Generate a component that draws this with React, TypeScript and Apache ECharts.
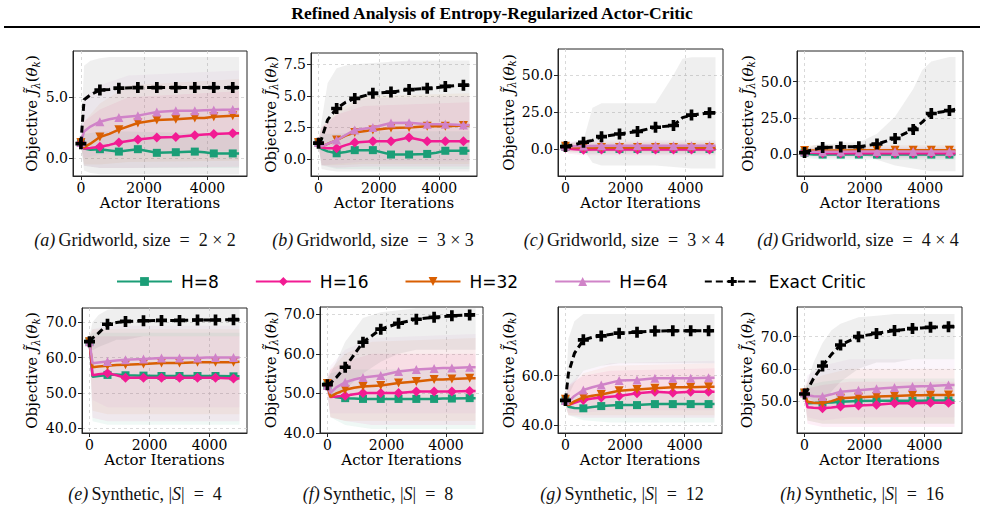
import React, { useEffect, useRef } from 'react';
import * as echarts from 'echarts';

// ---------- shared axes / names ----------
const ITER = [0, 100, 300, 600, 900, 1200, 1800, 2400, 3000, 3600, 3900, 4200, 4800, 5000];
const MARKED_ITER = [0, 600, 1200, 1800, 2400, 3000, 3600, 4200, 4800];
const BAND_ITER = [0, 100, 600, 1500, 5000];
const X_TICKS = [0, 2000, 4000];
const SERIES_NAMES = ['H=8', 'H=16', 'H=32', 'H=64', 'Exact Critic'];

// ---------- (a) Gridworld 2x2 ----------
const A_YTICKS = [0, 5];
const A_H8 = [1.3, 0.8, 0.7, 0.75, 0.65, 0.55, 0.75, 0.45, 0.5, 0.55, 0.5, 0.4, 0.4, 0.4];
const A_H16 = [1.3, 0.8, 0.85, 0.95, 1.1, 1.3, 1.55, 1.7, 1.75, 1.9, 1.95, 2.0, 2.05, 2.05];
const A_H32 = [1.3, 0.9, 1.2, 1.75, 2.0, 2.35, 2.9, 3.15, 3.2, 3.3, 3.3, 3.4, 3.5, 3.5];
const A_H64 = [1.3, 2.2, 2.6, 3.0, 3.2, 3.35, 3.5, 3.8, 3.9, 3.9, 3.95, 3.97, 4.0, 4.05];
const A_EXACT = [1.2, 4.8, 5.2, 5.6, 5.65, 5.75, 5.8, 5.8, 5.8, 5.8, 5.8, 5.8, 5.8, 5.8];
const A_EXACT_BAND = [[1.0, 1.5], [-1.0, 7.6], [-1.2, 8.0], [-1.3, 8.2], [-1.3, 8.3], [-1.3, 8.3], [-1.3, 8.3], [-1.3, 8.3], [-1.3, 8.3], [-1.3, 8.3], [-1.3, 8.3], [-1.3, 8.3], [-1.3, 8.3], [-1.3, 8.3]];
const A_H8_BAND = [[1.1, 1.5], [-0.6, 2.0], [-0.8, 2.2], [-0.8, 2.2], [-0.8, 2.0]];
const A_H16_BAND = [[1.1, 1.5], [-0.6, 3.0], [-0.8, 4.0], [-0.8, 5.0], [-0.7, 5.5]];
const A_H32_BAND = [[1.1, 1.5], [-0.5, 3.0], [-0.5, 4.5], [-0.3, 6.0], [-0.2, 6.5]];
const A_H64_BAND = [[1.1, 1.5], [0.0, 5.0], [0.3, 6.0], [0.5, 6.8], [0.6, 7.2]];

// ---------- (b) Gridworld 3x3 ----------
const B_YTICKS = [0, 2.5, 5, 7.5];
const B_H8 = [1.3, 0.8, 0.6, 0.45, 0.55, 0.7, 0.7, 0.35, 0.35, 0.4, 0.5, 0.65, 0.65, 0.65];
const B_H16 = [1.3, 0.9, 0.85, 0.85, 1.1, 1.3, 1.4, 1.4, 1.7, 1.4, 1.4, 1.4, 1.4, 1.4];
const B_H32 = [1.3, 1.0, 1.2, 1.5, 1.85, 2.1, 2.3, 2.45, 2.5, 2.6, 2.6, 2.6, 2.65, 2.65];
const B_H64 = [1.3, 1.0, 1.2, 1.5, 1.9, 2.3, 2.5, 2.85, 2.87, 2.75, 2.75, 2.75, 2.7, 2.7];
const B_EXACT = [1.25, 1.6, 3.1, 4.0, 4.5, 4.8, 5.2, 5.3, 5.5, 5.6, 5.65, 5.75, 5.85, 5.85];
const B_EXACT_BAND = [[1.0, 1.5], [-0.8, 3.0], [-0.9, 6.0], [-1.0, 7.2], [-1.0, 7.4], [-1.0, 7.5], [-1.0, 7.6], [-1.0, 7.7], [-1.0, 7.8], [-1.0, 7.8], [-1.0, 7.8], [-1.0, 7.8], [-1.0, 7.8], [-1.0, 7.8]];
const B_H8_BAND = [[1.1, 1.5], [-0.5, 2.0], [-0.8, 2.0], [-0.8, 2.2], [-0.8, 2.2]];
const B_H16_BAND = [[1.1, 1.5], [-0.5, 2.5], [-0.7, 3.5], [-0.6, 4.2], [-0.6, 4.5]];
const B_H32_BAND = [[1.1, 1.5], [-0.5, 2.5], [-0.5, 3.8], [-0.4, 5.0], [-0.4, 5.2]];
const B_H64_BAND = [[1.1, 1.5], [-0.5, 2.5], [-0.4, 3.5], [-0.2, 4.8], [-0.2, 5.0]];

// ---------- (c) Gridworld 3x4 ----------
const C_YTICKS = [0, 25, 50];
const C_H8 = [1.5, 0.5, 0.3, 0.2, 0.2, 0.2, 0.2, 0.2, 0.2, 0.2, 0.2, 0.2, 0.2, 0.2];
const C_H16 = [1.0, 0.3, 0.0, -0.3, -0.2, -0.2, -0.2, -0.2, -0.2, -0.2, -0.2, -0.2, -0.2, -0.2];
const C_H32 = [2.0, 1.5, 1.3, 1.2, 1.2, 1.2, 1.2, 1.2, 1.2, 1.2, 1.2, 1.2, 1.2, 1.2];
const C_H64 = [2.0, 1.8, 2.0, 2.2, 2.2, 2.3, 2.3, 2.3, 2.4, 2.4, 2.4, 2.4, 2.4, 2.4];
const C_EXACT = [1.8, 2.3, 3.0, 4.7, 6.0, 8.5, 10.3, 12.0, 14.8, 16.0, 21.3, 23.0, 24.5, 24.5];
const C_EXACT_BAND = [[0, 3], [0, 4], [0, 5], [0, 6], [-9, 28], [-11, 31], [-11, 31], [-11, 31], [-11, 31], [-12, 50], [-12.5, 61], [-13, 62], [-13, 62], [-13, 62]];
const C_H8_BAND = [[0, 3], [-2, 3], [-3, 3], [-3, 3], [-3, 3]];
const C_H16_BAND = [[0, 3], [-3, 4], [-4, 4], [-4, 4], [-4, 4]];
const C_H32_BAND = [[0, 3], [-2, 4], [-2, 5], [-2, 5], [-2, 5]];
const C_H64_BAND = [[0, 3], [-1, 5], [-1, 6], [-1, 6], [-1, 6]];

// ---------- (d) Gridworld 4x4 ----------
const D_YTICKS = [0, 25, 50];
const D_H8 = [1.0, 0.0, -0.3, -0.4, -0.4, -0.4, -0.4, -0.4, -0.4, -0.4, -0.4, -0.4, -0.4, -0.4];
const D_H16 = [1.5, 1.0, 0.8, 0.6, 0.6, 0.6, 0.6, 0.6, 0.6, 0.6, 0.6, 0.6, 0.6, 0.6];
const D_H32 = [2.5, 2.4, 2.4, 2.5, 2.5, 2.5, 2.6, 2.6, 2.6, 2.6, 2.6, 2.6, 2.6, 2.6];
const D_H64 = [1.5, 1.5, 1.5, 1.6, 1.6, 1.6, 1.7, 1.7, 1.7, 1.7, 1.7, 1.7, 1.7, 1.7];
const D_EXACT = [1.0, 2.0, 3.0, 4.5, 4.7, 4.9, 5.0, 6.9, 10.8, 17.0, 22.0, 28.0, 30.0, 31.0];
const D_EXACT_BAND = [[0, 2], [0, 4], [1, 6], [1, 7], [1, 7], [1, 8], [1, 8], [-4, 14], [-8, 26], [-10, 45], [-11, 58], [-12, 64], [-12, 67], [-12, 67]];
const D_H8_BAND = [[0, 2], [-3, 3], [-4, 3], [-4, 3], [-4, 3]];
const D_H16_BAND = [[0, 3], [-2, 4], [-3, 4], [-3, 4], [-3, 4]];
const D_H32_BAND = [[0, 4], [-1, 6], [-1, 6], [-1, 6], [-1, 6]];
const D_H64_BAND = [[0, 3], [-1, 4], [-2, 5], [-2, 5], [-2, 5]];

// ---------- (e) Synthetic |S|=4 ----------
const E_YTICKS = [40, 50, 60, 70];
const E_H8 = [64.5, 54.6, 54.8, 55.1, 55.2, 55.0, 54.9, 54.8, 54.8, 54.8, 54.8, 54.8, 54.7, 54.7];
const E_H16 = [64.5, 55.0, 55.3, 55.6, 55.0, 54.3, 54.3, 54.3, 54.3, 54.3, 54.3, 54.3, 54.1, 54.1];
const E_H32 = [64.5, 57.3, 57.5, 57.7, 57.9, 58.0, 58.2, 58.5, 58.5, 58.7, 58.7, 58.7, 58.7, 58.8];
const E_H64 = [64.5, 58.4, 58.6, 58.9, 59.2, 59.4, 59.6, 59.9, 59.9, 59.9, 60.0, 60.0, 60.0, 60.0];
const E_EXACT = [64.5, 65.5, 66.9, 69.4, 69.9, 70.2, 70.4, 70.5, 70.5, 70.6, 70.6, 70.6, 70.7, 70.7];
const E_EXACT_BAND = [[63, 66], [62, 70], [63, 72], [64, 73.5], [65, 73.8], [65, 73.8], [66, 73.8], [66, 73.8], [66, 73.8], [66, 73.8], [66, 73.8], [66, 73.8], [66, 73.8], [66, 73.8]];
const E_H8_BAND = [[63, 66], [42, 67], [41, 67], [41, 67], [41, 67]];
const E_H16_BAND = [[63, 66], [43, 66], [42, 66], [42, 66], [42, 66]];
const E_H32_BAND = [[63, 66], [45, 68], [44, 68], [44, 68], [44, 68]];
const E_H64_BAND = [[63, 66], [48, 68], [46, 69], [46, 69], [46, 69]];

// ---------- (f) Synthetic |S|=8 ----------
const F_YTICKS = [40, 50, 60, 70];
const F_H8 = [52.0, 49.4, 49.0, 48.8, 48.7, 48.6, 48.6, 48.6, 48.6, 48.6, 48.7, 48.7, 48.8, 48.8];
const F_H16 = [52.0, 49.1, 49.2, 49.4, 49.8, 50.1, 50.1, 50.1, 50.5, 50.5, 50.5, 50.5, 50.6, 50.6];
const F_H32 = [52.5, 49.1, 50.0, 50.9, 51.4, 51.75, 52.0, 52.6, 53.0, 53.5, 53.5, 53.6, 53.8, 53.8];
const F_H64 = [52.0, 50.1, 51.5, 52.8, 53.5, 54.0, 54.5, 55.5, 56.0, 56.3, 56.4, 56.4, 56.6, 56.6];
const F_EXACT = [52.2, 52.6, 54.0, 56.6, 59.8, 62.9, 66.2, 67.7, 68.7, 69.2, 69.4, 69.6, 69.8, 69.8];
const F_EXACT_BAND = [[51, 53], [49, 55], [50, 58], [51, 63], [53, 66], [55, 69], [58, 70.5], [60, 71], [61, 71.5], [61, 71.5], [61, 71.5], [61, 71.5], [61, 71.5], [61, 71.5]];
const F_H8_BAND = [[50, 54], [44, 55], [42, 56], [41, 56], [41, 56]];
const F_H16_BAND = [[50, 54], [44, 56], [43, 58], [42, 60], [42, 60]];
const F_H32_BAND = [[50, 54], [44, 56], [43, 60], [43, 63], [43, 64]];
const F_H64_BAND = [[50, 54], [45, 57], [45, 61], [45, 64], [45, 65]];

// ---------- (g) Synthetic |S|=12 ----------
const G_YTICKS = [40, 60];
const G_H8 = [50.0, 47.4, 46.9, 46.8, 47.3, 47.7, 48.1, 48.1, 48.5, 48.5, 48.5, 48.5, 48.5, 48.5];
const G_H16 = [50.0, 48.1, 49.0, 50.2, 50.8, 51.2, 51.8, 52.9, 53.5, 53.1, 53.3, 53.5, 53.5, 53.5];
const G_H32 = [50.5, 48.1, 49.6, 51.2, 51.9, 52.4, 53.9, 54.4, 54.9, 55.3, 55.3, 55.3, 55.5, 55.5];
const G_H64 = [50.0, 49.5, 51.8, 54.2, 55.3, 56.2, 58.0, 58.3, 59.0, 59.0, 59.0, 59.0, 59.2, 59.2];
const G_EXACT = [50.0, 61.0, 69.0, 74.5, 75.5, 76.1, 77.2, 77.6, 78.1, 78.2, 78.2, 78.2, 78.2, 78.2];
const G_EXACT_BAND = [[48, 51], [52, 75], [57, 82], [62, 85], [63, 85], [64, 85], [65, 85], [65, 85], [65, 85], [65, 85], [65, 85], [65, 85], [65, 85], [65, 85]];
const G_H8_BAND = [[48, 51], [44, 51], [42, 52], [41, 53], [41, 53]];
const G_H16_BAND = [[48, 51], [44, 56], [43, 60], [43, 62], [43, 63]];
const G_H32_BAND = [[48, 51], [44, 55], [44, 61], [44, 64], [44, 65]];
const G_H64_BAND = [[48, 51], [45, 56], [45, 62], [46, 65], [46, 66]];

// ---------- (h) Synthetic |S|=16 ----------
const H_YTICKS = [50, 60, 70];
const H_H8 = [52.5, 49.3, 49.4, 49.5, 49.6, 49.8, 50.0, 50.1, 50.1, 50.1, 50.1, 50.2, 50.2, 50.2];
const H_H16 = [52.5, 48.1, 47.9, 47.8, 48.0, 48.3, 48.6, 48.9, 49.3, 49.3, 49.4, 49.5, 49.5, 49.5];
const H_H32 = [52.5, 49.8, 49.5, 49.3, 50.0, 50.9, 51.2, 51.4, 51.6, 51.8, 51.8, 51.9, 51.9, 51.9];
const H_H64 = [52.5, 51.8, 51.5, 51.4, 52.1, 52.9, 53.4, 53.8, 54.2, 54.5, 54.6, 54.7, 55.0, 55.0];
const H_EXACT = [52.2, 53.5, 57.0, 60.9, 64.5, 67.4, 70.0, 71.0, 71.9, 72.5, 72.7, 72.9, 73.1, 73.1];
const H_EXACT_BAND = [[51, 53], [51, 56], [50, 62], [50, 68], [53, 72], [56, 74], [60, 76], [62, 76.5], [62, 77], [63, 77], [63, 77], [63, 77], [63, 77], [63, 77]];
const H_H8_BAND = [[51, 54], [44, 55], [43, 56], [43, 57], [43, 57]];
const H_H16_BAND = [[51, 54], [43, 54], [42, 55], [42, 56], [42, 56]];
const H_H32_BAND = [[51, 54], [44, 56], [43, 58], [43, 60], [43, 60]];
const H_H64_BAND = [[51, 54], [45, 58], [44, 61], [45, 63], [45, 63]];

// ---------- captions ----------
const CAPTION_TAGS = ['(a)', '(b)', '(c)', '(d)', '(e)', '(f)', '(g)', '(h)'];
const CAPTION_BODIES = [
  'Gridworld, size = 2 × 2',
  'Gridworld, size = 3 × 3',
  'Gridworld, size = 3 × 4',
  'Gridworld, size = 4 × 4',
  'Synthetic, |S| = 4',
  'Synthetic, |S| = 8',
  'Synthetic, |S| = 12',
  'Synthetic, |S| = 16',
];
const TITLE = 'Refined Analysis of Entropy-Regularized Actor-Critic';

// ---------- styling ----------
const COLORS = ['#1b9e77', '#f21b93', '#d95f02', '#d083c8', '#000000'];
const BAND_COLORS = ['rgba(27,158,119,0.07)', 'rgba(242,27,147,0.07)', 'rgba(217,95,2,0.06)', 'rgba(208,131,200,0.08)'];
const EXACT_BAND_COLOR = 'rgba(120,120,120,0.12)';
const PLUS = 'path://M4,0H8V4H12V8H8V12H4V8H0V4H4Z';
const SYMBOLS = ['rect', 'diamond', 'triangle', 'triangle', PLUS];
const SYMBOL_ROT = [0, 0, 180, 0, 0];
const SYMBOL_SIZE = [8, 10, 9, 9, 11];

const PANELS = [
  { grid: { left: 73, top: 51, width: 174, height: 125 }, y: [-1.45, 8.8], ticks: A_YTICKS, lines: [A_H8, A_H16, A_H32, A_H64, A_EXACT], exactBand: A_EXACT_BAND, bands: [A_H8_BAND, A_H16_BAND, A_H32_BAND, A_H64_BAND], gap: 32, cap: [135, 240] },
  { grid: { left: 311, top: 53, width: 166, height: 123 }, y: [-1.35, 8.4], ticks: B_YTICKS, lines: [B_H8, B_H16, B_H32, B_H64, B_EXACT], exactBand: B_EXACT_BAND, bands: [B_H8_BAND, B_H16_BAND, B_H32_BAND, B_H64_BAND], gap: 30, cap: [373, 240] },
  { grid: { left: 558, top: 49, width: 165, height: 127 }, y: [-18, 67.5], ticks: C_YTICKS, lines: [C_H8, C_H16, C_H32, C_H64, C_EXACT], exactBand: C_EXACT_BAND, bands: [C_H8_BAND, C_H16_BAND, C_H32_BAND, C_H64_BAND], gap: 37, cap: [624, 240] },
  { grid: { left: 797, top: 51, width: 166, height: 125 }, y: [-15.2, 71.2], ticks: D_YTICKS, lines: [D_H8, D_H16, D_H32, D_H64, D_EXACT], exactBand: D_EXACT_BAND, bands: [D_H8_BAND, D_H16_BAND, D_H32_BAND, D_H64_BAND], gap: 39, cap: [858, 240] },
  { grid: { left: 82, top: 308, width: 165, height: 125 }, y: [38.7, 74], ticks: E_YTICKS, lines: [E_H8, E_H16, E_H32, E_H64, E_EXACT], exactBand: E_EXACT_BAND, bands: [E_H8_BAND, E_H16_BAND, E_H32_BAND, E_H64_BAND], gap: 41, cap: [145, 494] },
  { grid: { left: 320, top: 307, width: 163, height: 126 }, y: [40, 71.8], ticks: F_YTICKS, lines: [F_H8, F_H16, F_H32, F_H64, F_EXACT], exactBand: F_EXACT_BAND, bands: [F_H8_BAND, F_H16_BAND, F_H32_BAND, F_H64_BAND], gap: 39, cap: [378, 494] },
  { grid: { left: 558, top: 307, width: 164, height: 126 }, y: [36.8, 87.8], ticks: G_YTICKS, lines: [G_H8, G_H16, G_H32, G_H64, G_EXACT], exactBand: G_EXACT_BAND, bands: [G_H8_BAND, G_H16_BAND, G_H32_BAND, G_H64_BAND], gap: 38, cap: [622, 494] },
  { grid: { left: 797, top: 307, width: 165, height: 126 }, y: [40.1, 79.2], ticks: H_YTICKS, lines: [H_H8, H_H16, H_H32, H_H64, H_EXACT], exactBand: H_EXACT_BAND, bands: [H_H8_BAND, H_H16_BAND, H_H32_BAND, H_H64_BAND], gap: 41, cap: [862, 494] },
];

const SERIF = 'DejaVu Serif';
const AXIS_COLOR = '#262626';

function bandSeries(gi: number, xs: number[], pairs: number[][], color: string) {
  return {
    type: 'custom',
    xAxisIndex: gi,
    yAxisIndex: gi,
    silent: true,
    z: 1,
    data: xs.map((x, k) => [x, pairs[k][0], pairs[k][1]]),
    encode: { x: 0, y: [1, 2] },
    renderItem: (params: any, api: any) => {
      if (params.dataIndexInside !== 0) return null;
      const top = xs.map((x, k) => api.coord([x, pairs[k][1]]));
      const bot = xs.map((x, k) => api.coord([x, pairs[k][0]])).reverse();
      return { type: 'polygon', shape: { points: top.concat(bot) }, style: { fill: color } };
    },
  };
}

function buildOption() {
  const grids: any[] = [];
  const xAxes: any[] = [];
  const yAxes: any[] = [];
  const series: any[] = [];
  const graphics: any[] = [];

  PANELS.forEach((p, gi) => {
    grids.push({ ...p.grid, show: true, borderColor: AXIS_COLOR, borderWidth: 1, backgroundColor: 'transparent' });
    xAxes.push({
      type: 'value', gridIndex: gi, min: -250, max: 5250,
      name: 'Actor Iterations', nameLocation: 'middle', nameGap: 19,
      nameTextStyle: { fontFamily: SERIF, fontSize: 15, color: '#000' },
      axisLine: { show: true, onZero: false, lineStyle: { color: AXIS_COLOR, width: 1 } },
      axisTick: { show: true, length: 4, customValues: X_TICKS, lineStyle: { color: AXIS_COLOR } },
      axisLabel: { customValues: X_TICKS, margin: 5, fontFamily: SERIF, fontSize: 14, color: '#000', formatter: (v: number) => String(v) },
      splitLine: { show: true, lineStyle: { color: '#cfcfcf', type: [3, 3], width: 0.8 } },
    });
    yAxes.push({
      type: 'value', gridIndex: gi, min: p.y[0], max: p.y[1],
      name: '{n|Objective }{j|J\u0303}{s|λ}{n|(}{t|θ}{s|k}{n|)}',
      nameLocation: 'middle', nameRotate: 90, nameGap: p.gap,
      nameTextStyle: {
        fontFamily: SERIF, fontSize: 15, color: '#000',
        rich: {
          n: { fontFamily: SERIF, fontSize: 15, color: '#000' },
          j: { fontFamily: SERIF, fontSize: 15, fontStyle: 'italic', color: '#000' },
          t: { fontFamily: SERIF, fontSize: 15, fontStyle: 'italic', color: '#000' },
          s: { fontFamily: SERIF, fontSize: 10.5, fontStyle: 'italic', color: '#000', verticalAlign: 'bottom', lineHeight: 18 },
        },
      },
      axisLine: { show: true, onZero: false, lineStyle: { color: AXIS_COLOR, width: 1 } },
      axisTick: { show: true, length: 4, customValues: p.ticks, lineStyle: { color: AXIS_COLOR } },
      axisLabel: { customValues: p.ticks, margin: 5, fontFamily: SERIF, fontSize: 14, color: '#000', formatter: (v: number) => v.toFixed(1) },
      splitLine: { show: true, lineStyle: { color: '#cfcfcf', type: [3, 3], width: 0.8 } },
    });

    // shaded bands
    p.bands.forEach((b, si) => series.push(bandSeries(gi, BAND_ITER, b, BAND_COLORS[si])));
    series.push(bandSeries(gi, ITER, p.exactBand, EXACT_BAND_COLOR));

    // lines
    p.lines.forEach((ys, si) => {
      const isExact = si === 4;
      series.push({
        type: 'line',
        name: SERIES_NAMES[si],
        xAxisIndex: gi,
        yAxisIndex: gi,
        z: 3 + si,
        symbol: SYMBOLS[si],
        symbolRotate: SYMBOL_ROT[si],
        symbolSize: SYMBOL_SIZE[si],
        showSymbol: true,
        silent: true,
        color: COLORS[si],
        itemStyle: { color: COLORS[si] },
        lineStyle: isExact ? { color: '#000', width: 3, type: [7, 4] } : { color: COLORS[si], width: 2.5 },
        data: ITER.map((x, k) => (MARKED_ITER.indexOf(x) >= 0 ? { value: [x, ys[k]] } : { value: [x, ys[k]], symbol: 'none' })),
      });
    });

    // caption
    const body = CAPTION_BODIES[gi]
      .replace(' = ', '\u2002=\u2002')
      .replace(' × ', '\u2005×\u2005')
      .replace('|S|', '|}{is|S}{r||');
    graphics.push({
      type: 'text', x: p.cap[0], y: p.cap[1],
      style: {
        text: `{it|${CAPTION_TAGS[gi]}} {r|${body}}`,
        align: 'center', verticalAlign: 'middle',
        rich: {
          it: { fontFamily: 'Liberation Serif', fontSize: 18, fontStyle: 'italic', fill: '#111' },
          r: { fontFamily: 'Liberation Serif', fontSize: 18, fill: '#111' },
          is: { fontFamily: 'Liberation Serif', fontSize: 18, fontStyle: 'italic', fill: '#111' },
        },
      },
    });
  });

  graphics.push({
    type: 'text', x: 492, y: 13,
    style: { text: TITLE, align: 'center', verticalAlign: 'middle', fontFamily: 'Liberation Serif', fontWeight: 'bold', fontSize: 17.5, fill: '#000' },
  });
  graphics.push({ type: 'line', shape: { x1: 4, y1: 27, x2: 980, y2: 27 }, style: { stroke: '#000', lineWidth: 2 } });

  return {
    animation: false,
    backgroundColor: '#fff',
    grid: grids,
    xAxis: xAxes,
    yAxis: yAxes,
    series,
    graphic: graphics,
    legend: {
      data: SERIES_NAMES,
      left: 111,
      top: 268,
      itemWidth: 55,
      itemHeight: 11,
      itemGap: 36,
      selectedMode: false,
      textStyle: { fontFamily: 'DejaVu Sans', fontSize: 17, color: '#000', padding: [0, 0, 0, 4] },
    },
  };
}

export default function App() {
  const ref = useRef<HTMLDivElement>(null);
  useEffect(() => {
    if (!ref.current) return;
    const chart = echarts.init(ref.current, null, { renderer: 'svg' });
    chart.setOption(buildOption() as any);
    return () => chart.dispose();
  }, []);
  return <div ref={ref} style={{ position: 'fixed', left: 0, top: 0, width: 985, height: 526, background: '#fff' }} />;
}
